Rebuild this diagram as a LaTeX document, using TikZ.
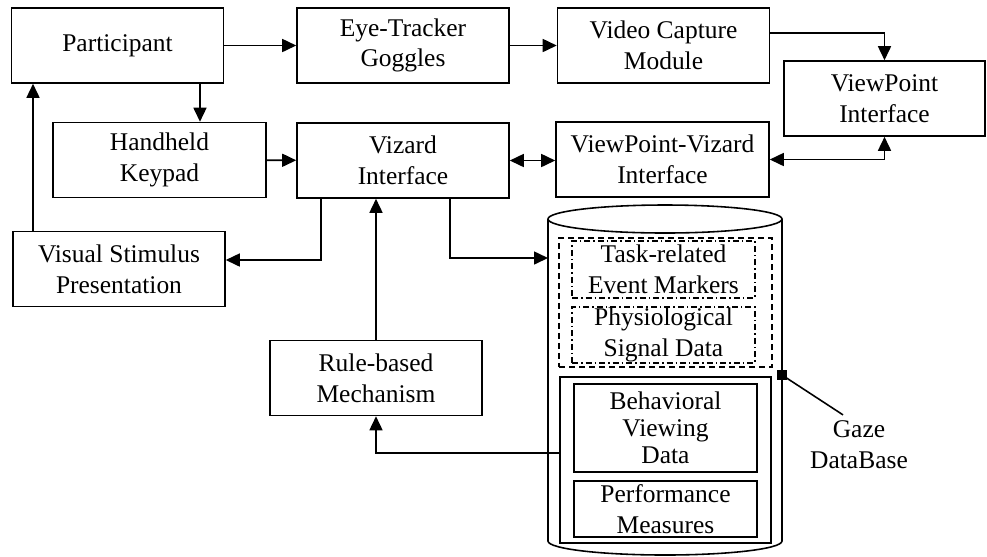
\documentclass[tikz,border=0pt]{standalone}
\usepackage{fontspec}
\setmainfont{Liberation Serif}
\usetikzlibrary{arrows.meta}

\begin{document}
\begin{tikzpicture}[x=0.02cm,y=-0.02cm,
  txt/.style={font=\fontsize{14.5}{17.5}\selectfont,align=center},
  blk/.style={txt,draw,line width=0.9pt,minimum width=4.24cm,minimum height=1.5cm,inner sep=0pt},
  sub/.style={txt,draw,line width=0.9pt,minimum width=3.66cm,inner sep=0pt},
  arr/.style={-{Triangle[length=2.8mm,width=2.6mm]},line width=0.9pt},
  dbl/.style={{Triangle[length=2.8mm,width=2.6mm]}-{Triangle[length=2.8mm,width=2.6mm]},line width=0.9pt}]
\useasboundingbox (0,0) rectangle (987,556);
% boxes
\draw (117.5,45.5) node[blk](part) {Participant};
\draw (403,45.5) node[blk](goggles) {Eye-Tracker\\Goggles};
\draw (663.5,45.5) node[blk](video) {Video Capture\\Module};
\draw (884.5,98.5) node[blk,minimum width=4.02cm](viewpt) {ViewPoint\\Interface};
\draw (159.5,160) node[blk,minimum width=4.26cm](keypad) {Handheld\\Keypad};
\draw (403,160.5) node[blk](vizard) {Vizard\\Interface};
\draw (662.5,159.5) node[blk,minimum width=4.26cm](vpviz) {ViewPoint-Vizard\\Interface};
\draw (119,269) node[blk](stim) {Visual Stimulus\\Presentation};
\draw (376,378) node[blk](rule) {Rule-based\\Mechanism};
% database cylinder
\draw[line width=0.9pt] (665,219) ellipse [x radius=117,y radius=14];
\draw[line width=0.9pt] (548,219) -- (548,541) arc[start angle=180,end angle=0,x radius=117,y radius=14] -- (782,219);
\draw (665.5,302.5) node[draw,line width=0.9pt,dash pattern=on 0.12cm off 0.08cm,minimum width=4.26cm,minimum height=2.58cm](rawgrp) {};
\draw (663.5,269.5) node[sub,dash pattern=on 0.12cm off 0.06cm on 0.03cm off 0.06cm,minimum height=1.14cm](task) {Task-related\\Event Markers};
\draw (663.5,335) node[sub,dash pattern=on 0.12cm off 0.06cm on 0.03cm off 0.06cm,minimum height=1.12cm](physio) {Physiological\\Signal Data};
\draw (665.5,460) node[draw,line width=0.9pt,minimum width=4.22cm,minimum height=3.32cm](logs) {};
\draw (665.5,428) node[sub,minimum height=1.76cm,font=\fontsize{14.5}{15.5}\selectfont](behav) {Behavioral\\Viewing\\Data};
\draw (665.5,509) node[sub,minimum height=1.12cm](perf) {Performance\\Measures};
\draw (782,375) node[fill,minimum size=0.2cm,inner sep=0pt](dbmark) {};
\draw (859,445) node[txt](gazelbl) {Gaze\\DataBase};
\draw[line width=0.9pt] (dbmark.center) -- ([xshift=-0.32cm]gazelbl.north);
\coordinate (dbin) at (548,258);
% connectors
\draw[arr] (part) -- (goggles);
\draw[arr] (goggles) -- (video);
\draw[arr] ([yshift=0.25cm]video.east) -| (viewpt.north);
\draw[arr] ([xshift=1.65cm]part.south) -- ([xshift=1.65cm]part.south |- keypad.north);
\draw[arr] ([xshift=-1.72cm]stim.north) -- ([xshift=-1.72cm]stim.north |- part.south);
\draw[arr] (keypad) -- (vizard);
\draw[dbl] (vizard.east) -- (vizard.east -| vpviz.west);
\draw[dbl] (vpviz.east) -| (viewpt.south);
\draw[arr] ([xshift=-1.64cm]vizard.south) |- ([yshift=0.18cm]stim.east);
\draw[arr] ([xshift=0.94cm]vizard.south) |- (dbin);
\draw[arr] (rule.north) -- (rule.north |- vizard.south);
\draw[arr] ([yshift=0.14cm]logs.west) -| (rule.south);
\end{tikzpicture}
\end{document}
